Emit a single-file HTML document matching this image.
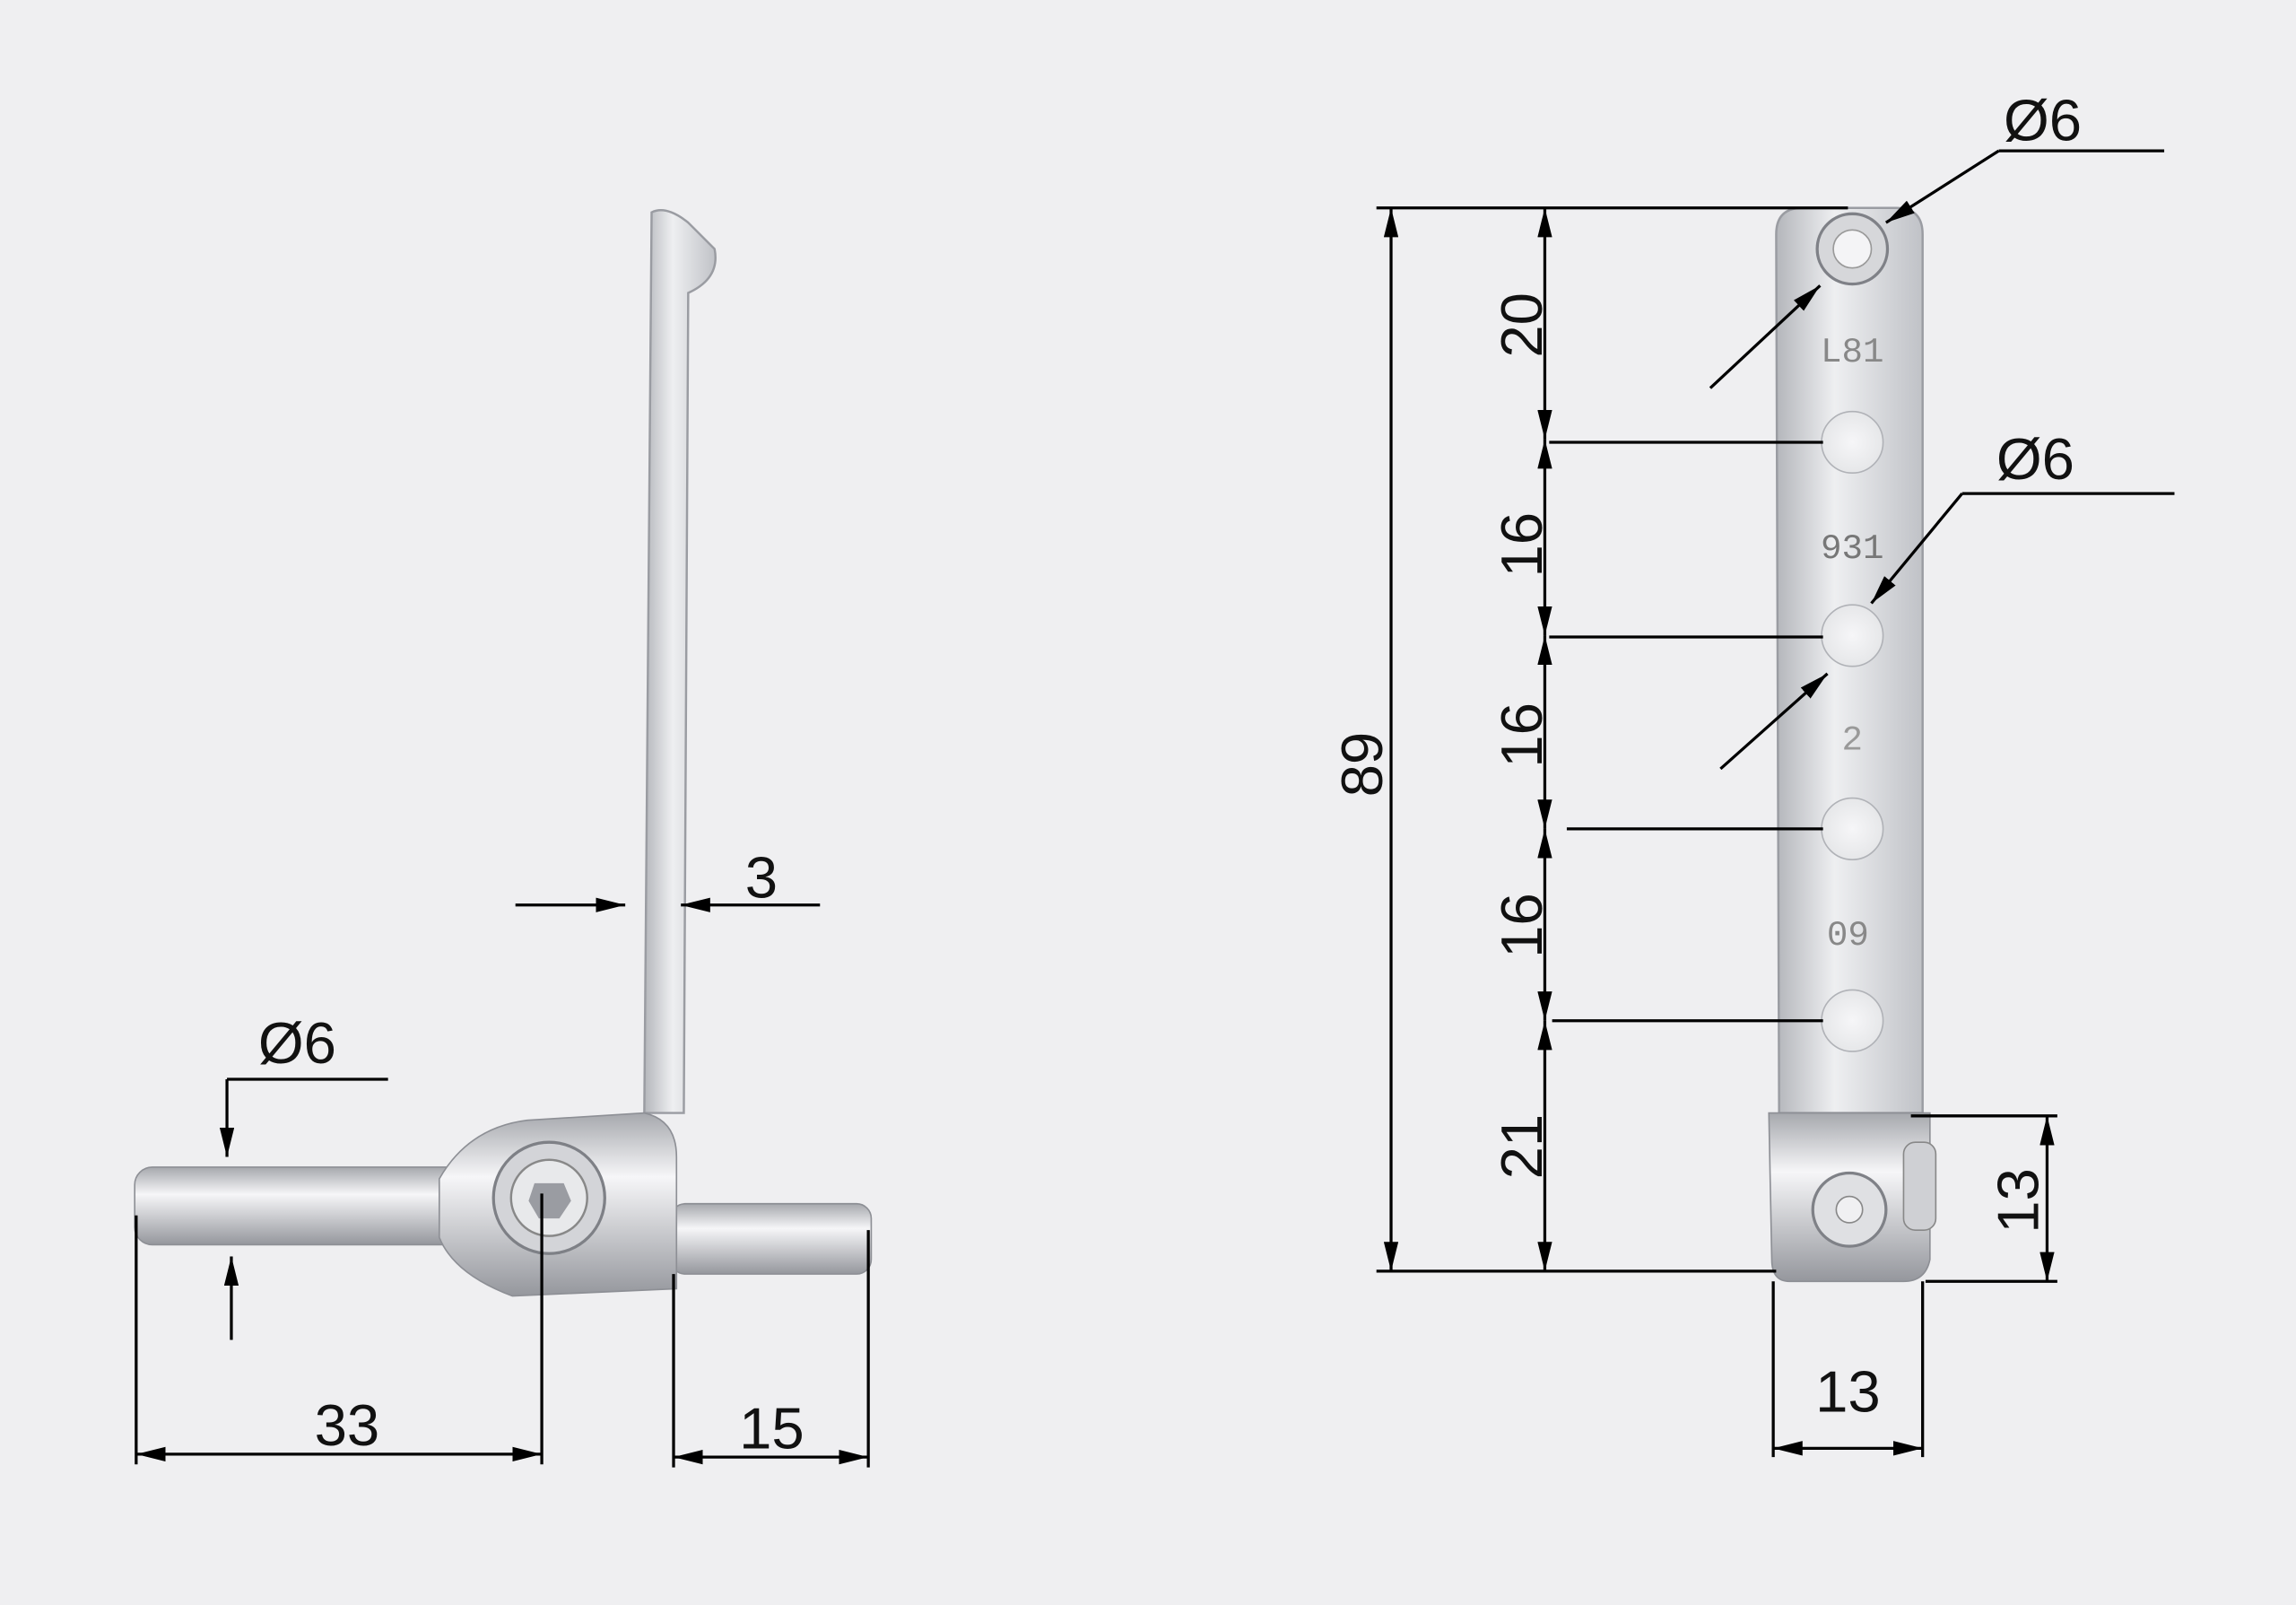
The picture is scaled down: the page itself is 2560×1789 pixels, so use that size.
<!DOCTYPE html>
<html><head><meta charset="utf-8"><style>
html,body{margin:0;padding:0;background:#efeff1;}
svg{display:block;}
text{font-family:"Liberation Sans",sans-serif;font-size:40px;fill:#111;}
</style></head><body>
<svg width="2560" height="1789" viewBox="0 0 1568 1096" preserveAspectRatio="none" xmlns="http://www.w3.org/2000/svg">
<defs>
<marker id="a" viewBox="0 0 20 10" refX="20" refY="5" markerWidth="20" markerHeight="10" markerUnits="userSpaceOnUse" orient="auto-start-reverse"><path d="M0,0 L20,5 L0,10 z" fill="#000"/></marker>
<linearGradient id="mv" x1="0" x2="1" y1="0" y2="0"><stop offset="0" stop-color="#b4b6bb"/><stop offset="0.4" stop-color="#eeeff1"/><stop offset="1" stop-color="#c0c2c7"/></linearGradient>
<linearGradient id="mh" x1="0" x2="0" y1="0" y2="1"><stop offset="0" stop-color="#a6a8ad"/><stop offset="0.35" stop-color="#f6f6f8"/><stop offset="1" stop-color="#95979d"/></linearGradient>
<radialGradient id="hole"><stop offset="0" stop-color="#f6f6f8"/><stop offset="1" stop-color="#e6e7e9"/></radialGradient>
</defs>
<rect width="1568" height="1096" fill="#efeff1"/>

<!-- LEFT PART -->
<path d="M445,145 Q455,140 470,152 L488,170 Q492,190 470,200 L467,760 L440,760 Z" fill="url(#mv)" stroke="#9a9ca2" stroke-width="1.5"/>
<rect x="92" y="797" width="225" height="53" rx="12" fill="url(#mh)" stroke="#8d8f95"/>
<rect x="458" y="822" width="137" height="48" rx="10" fill="url(#mh)" stroke="#8d8f95"/>
<path d="M300,805 Q320,770 360,765 L440,760 Q462,765 462,790 L462,880 L350,885 Q310,870 300,845 Z" fill="url(#mh)" stroke="#8d8f95"/>
<circle cx="375" cy="818" r="38" fill="#d3d4d8" stroke="#7e8086" stroke-width="2"/>
<circle cx="375" cy="818" r="26" fill="#e8e9eb" stroke="#888" stroke-width="1.5"/>
<polygon points="365,808 385,808 390,820 382,832 368,832 361,820" fill="#9a9ca2"/>

<!-- left dims -->
<g stroke="#000" stroke-width="2" fill="none">
<line x1="352" y1="618" x2="427" y2="618" marker-end="url(#a)"/>
<line x1="560" y1="618" x2="465" y2="618" marker-end="url(#a)"/>
<line x1="155" y1="737" x2="265" y2="737"/>
<line x1="155" y1="737" x2="155" y2="790" marker-end="url(#a)"/>
<line x1="158" y1="915" x2="158" y2="858" marker-end="url(#a)"/>
<line x1="93" y1="830" x2="93" y2="1000"/>
<line x1="370" y1="815" x2="370" y2="1000"/>
<line x1="93" y1="993" x2="370" y2="993" marker-start="url(#a)" marker-end="url(#a)"/>
<line x1="460" y1="870" x2="460" y2="1002"/>
<line x1="593" y1="840" x2="593" y2="1002"/>
<line x1="460" y1="995" x2="593" y2="995" marker-start="url(#a)" marker-end="url(#a)"/>
</g>
<text x="520" y="613" text-anchor="middle">3</text>
<text x="203" y="726" text-anchor="middle">Ø6</text>
<text x="237" y="987" text-anchor="middle">33</text>
<text x="527" y="989" text-anchor="middle">15</text>

<!-- RIGHT PART -->
<path d="M1213,160 Q1213,142 1231,142 L1295,142 Q1313,142 1313,160 L1313,760 L1215,760 Z" fill="url(#mv)" stroke="#9a9ca2" stroke-width="1.5"/>
<path d="M1208,760 L1318,760 L1318,860 Q1315,875 1300,875 L1222,875 Q1210,875 1210,860 Z" fill="url(#mh)" stroke="#8d8f95"/>
<rect x="1300" y="780" width="22" height="60" rx="8" fill="#cfd0d4" stroke="#888"/>
<circle cx="1263" cy="826" r="25" fill="#dfe0e3" stroke="#7f8187" stroke-width="2"/>
<circle cx="1263" cy="826" r="9" fill="#f0f0f2" stroke="#888"/>
<circle cx="1265" cy="170" r="24" fill="#d6d7da" stroke="#7f8187" stroke-width="2"/>
<circle cx="1265" cy="170" r="13" fill="#f4f4f6" stroke="#999"/>
<circle cx="1265" cy="302" r="21" fill="url(#hole)" stroke="#b0b2b7"/>
<circle cx="1265" cy="434" r="21" fill="url(#hole)" stroke="#b0b2b7"/>
<circle cx="1265" cy="566" r="21" fill="url(#hole)" stroke="#b0b2b7"/>
<circle cx="1265" cy="697" r="21" fill="url(#hole)" stroke="#b0b2b7"/>
<text x="1265" y="247" text-anchor="middle" style="font-family:'Liberation Mono',monospace;font-size:24px;fill:#888">L81</text>
<text x="1265" y="381" text-anchor="middle" style="font-family:'Liberation Mono',monospace;font-size:24px;fill:#777">931</text>
<text x="1265" y="512" text-anchor="middle" style="font-family:'Liberation Mono',monospace;font-size:24px;fill:#999">2</text>
<text x="1262" y="645" text-anchor="middle" style="font-family:'Liberation Mono',monospace;font-size:24px;fill:#888">09</text>

<!-- right dims -->
<g stroke="#000" stroke-width="2" fill="none">
<line x1="940" y1="142" x2="1262" y2="142"/>
<line x1="940" y1="868" x2="1213" y2="868"/>
<line x1="950" y1="142" x2="950" y2="868" marker-start="url(#a)" marker-end="url(#a)"/>
<line x1="1055" y1="142" x2="1055" y2="300" marker-start="url(#a)" marker-end="url(#a)"/>
<line x1="1055" y1="300" x2="1055" y2="434" marker-start="url(#a)" marker-end="url(#a)"/>
<line x1="1055" y1="434" x2="1055" y2="566" marker-start="url(#a)" marker-end="url(#a)"/>
<line x1="1055" y1="566" x2="1055" y2="697" marker-start="url(#a)" marker-end="url(#a)"/>
<line x1="1055" y1="697" x2="1055" y2="868" marker-start="url(#a)" marker-end="url(#a)"/>
<line x1="1058" y1="302" x2="1245" y2="302"/>
<line x1="1058" y1="435" x2="1245" y2="435"/>
<line x1="1070" y1="566" x2="1245" y2="566"/>
<line x1="1060" y1="697" x2="1245" y2="697"/>
<line x1="1365" y1="103" x2="1478" y2="103"/>
<line x1="1365" y1="103" x2="1288" y2="152" marker-end="url(#a)"/>
<line x1="1168" y1="265" x2="1243" y2="195" marker-end="url(#a)"/>
<line x1="1340" y1="337" x2="1485" y2="337"/>
<line x1="1340" y1="337" x2="1278" y2="412" marker-end="url(#a)"/>
<line x1="1175" y1="525" x2="1248" y2="460" marker-end="url(#a)"/>
<line x1="1305" y1="762" x2="1405" y2="762"/>
<line x1="1315" y1="875" x2="1405" y2="875"/>
<line x1="1398" y1="762" x2="1398" y2="875" marker-start="url(#a)" marker-end="url(#a)"/>
<line x1="1211" y1="875" x2="1211" y2="995"/>
<line x1="1313" y1="875" x2="1313" y2="995"/>
<line x1="1211" y1="989" x2="1313" y2="989" marker-start="url(#a)" marker-end="url(#a)"/>
</g>
<text x="1395" y="96" text-anchor="middle">Ø6</text>
<text x="1390" y="327" text-anchor="middle">Ø6</text>
<text x="1262" y="964" text-anchor="middle">13</text>
<text transform="translate(944,522) rotate(-90)" text-anchor="middle">89</text>
<text transform="translate(1053,222) rotate(-90)" text-anchor="middle">20</text>
<text transform="translate(1053,372) rotate(-90)" text-anchor="middle">16</text>
<text transform="translate(1053,502) rotate(-90)" text-anchor="middle">16</text>
<text transform="translate(1053,632) rotate(-90)" text-anchor="middle">16</text>
<text transform="translate(1053,783) rotate(-90)" text-anchor="middle">21</text>
<text transform="translate(1392,820) rotate(-90)" text-anchor="middle">13</text>
</svg>
</body></html>
